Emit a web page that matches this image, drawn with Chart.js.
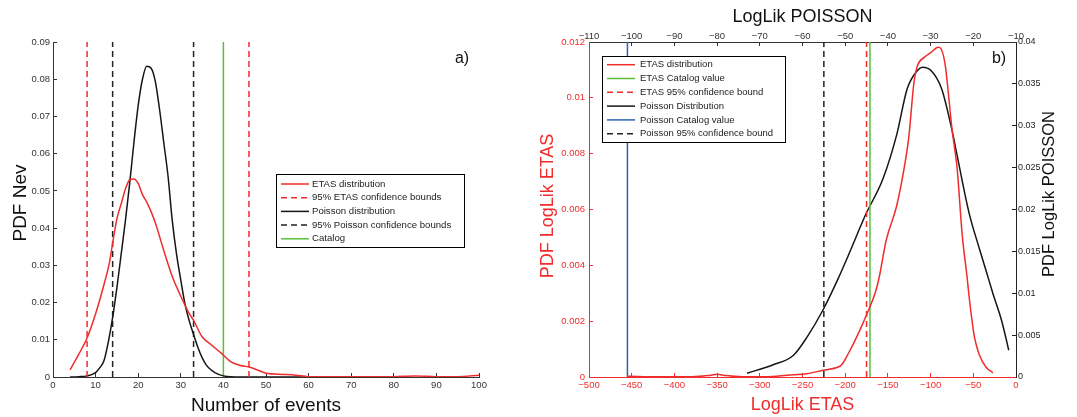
<!DOCTYPE html>
<html lang="en">
<head>
<meta charset="UTF-8">
<title>PDF Nev / LogLik ETAS - POISSON</title>
<script src="https://cdn.jsdelivr.net/npm/chart.js"></script>
<style>
  body { margin: 0; background: #fff; }
  #wrap { position: relative; width: 1077px; height: 417px; }
  #wrap canvas { position: absolute; top: 0; }
</style>
</head>
<body>
<div id="wrap">
  <canvas id="chartNev" width="530" height="417" style="left:0"></canvas>
  <canvas id="chartLogLik" width="547" height="417" style="left:530px"></canvas>
</div>
<script>
// ---- a) number of events ----
const etasNevX = [4, 6, 8, 10, 12, 13.3, 14, 15, 16, 17, 18, 19, 20, 21, 22, 23, 24, 26, 28, 30, 32, 33, 35, 37, 39.5, 42, 44, 46, 48, 50, 54, 57, 60, 70, 80, 85, 90, 95, 100];
const etasNevY = [0.0019, 0.006, 0.0105, 0.017, 0.025, 0.031, 0.036, 0.0425, 0.0465, 0.0505, 0.053, 0.0532, 0.052, 0.049, 0.047, 0.0445, 0.0415, 0.034, 0.027, 0.0217, 0.017, 0.0152, 0.0108, 0.0088, 0.0064, 0.0039, 0.0031, 0.0027, 0.0019, 0.001, 0.0007, 0.0005, 0.0001, 0.00005, 0.0001, 0.0003, 0.0001, 0.0001, 0.0005];
const poissonNevX = [4, 6, 8, 10, 11, 12, 13, 14, 15, 16, 17, 18, 19, 20, 21, 22, 23, 24, 25, 26, 27, 28, 29, 30, 31, 32, 33, 34, 35, 36, 37, 38, 40, 44, 60];
const poissonNevY = [0, 0.0001, 0.0003, 0.0012, 0.0025, 0.0045, 0.0095, 0.016, 0.024, 0.033, 0.042, 0.052, 0.063, 0.073, 0.080, 0.0835, 0.083, 0.0795, 0.072, 0.063, 0.054, 0.042, 0.033, 0.026, 0.0195, 0.015, 0.0114, 0.008, 0.0052, 0.0032, 0.002, 0.0012, 0.0003, 0, 0];
const etasBoundsNev = [8, 46];
const poissonBoundsNev = [14, 33];
const catalogNev = 40;
const nevTicksX = [0, 100, 10];      // min, max, step
const nevTicksY = [0, 0.09, 0.01];

// ---- b) log-likelihood ----
const etasLLX = [-455, -420, -380, -360, -350, -340, -320, -300, -280, -261, -245, -226, -208, -204, -196, -184, -174, -164, -160, -152, -140, -132, -125.5, -119.5, -115.4, -107.4, -99.3, -91.2, -89, -83, -79, -75, -71, -69, -63, -57, -55, -51, -48.5, -43, -35, -27];
const etasLLY = [0.00003, 0.00001, 0.00001, 0.00005, 0.0001, 0.00005, 0.00001, 0.00001, 0.00003, 0.00008, 0.00012, 0.00024, 0.00036, 0.00044, 0.00086, 0.0016, 0.0023, 0.0031, 0.0036, 0.0049, 0.0061, 0.0073, 0.0086, 0.01055, 0.01115, 0.01145, 0.01163, 0.01181, 0.0118, 0.0112, 0.0101, 0.0089, 0.008, 0.0075, 0.0051, 0.0035, 0.0029, 0.0019, 0.0014, 0.0008, 0.00035, 0.00015];
const poissonLLX = [-73, -67, -62.1, -58.9, -55.2, -51.6, -49.2, -45.2, -41.2, -37.9, -35.5, -33.1, -31.9, -29.9, -27.4, -25, -24, -21, -18.5, -16.9, -15.3, -13.3, -11.7];
const poissonLLY = [0.00044, 0.00144, 0.0026, 0.0048, 0.008, 0.0118, 0.0146, 0.0194, 0.0236, 0.029, 0.0344, 0.0366, 0.037, 0.0366, 0.0344, 0.0295, 0.027, 0.0196, 0.0152, 0.0125, 0.0098, 0.0066, 0.0032];
const etasCatalogLL = -171;
const etasBoundLL = -175;
const poissonCatalogLL = -101;
const poissonBoundLL = -55;
const etasLLTicksX = [-500, 0, 50];
const etasLLTicksY = [0, 0.012, 0.002];
const poissonLLTicksX = [-110, -10, 10];
const poissonLLTicksY = [0, 0.04, 0.005];

const FONT = '"Liberation Sans", Arial, Helvetica, sans-serif';
const RED = '#f02c2c';
const BLACK = '#161616';
const GREEN = '#5cbf3c';
const BLUE = '#2f62b8';
const DASH = [6, 4];

Chart.defaults.font.family = FONT;

const pts = (xs, ys) => xs.map((x, i) => ({ x: x, y: ys[i] }));
const vline = (x, top) => [{ x: x, y: 0 }, { x: x, y: top }];
// matlab style labels: no trailing zeros, real minus sign
const tickText = v => String(+v.toFixed(6)).replace('-', '\u2212');

function curve(label, xs, ys, color, extra) {
    return Object.assign({ label: label, inLegend: true, data: pts(xs, ys), borderColor: color,
        borderWidth: 1.5, cubicInterpolationMode: 'monotone', pointRadius: 0 }, extra || {});
}
function bound(label, x, top, color, dash, extra) {
    return Object.assign({ label: label, inLegend: !!label, data: vline(x, top), borderColor: color,
        borderWidth: 1.5, borderDash: dash || [], pointRadius: 0 }, extra || {});
}

// ticks point into the plot (negative tick length), like matlab
function axis(range, color, fit, pad, title, more, fontSize) {
    return Object.assign({
        type: 'linear', min: range[0], max: range[1],
        ticks: { stepSize: range[2], color: color, font: { size: fontSize || 9.5 }, padding: pad, maxRotation: 0,
                 autoSkip: false, callback: tickText },
        grid: { drawOnChartArea: false, drawTicks: true, tickLength: -4, color: color },
        border: { display: true, color: color, width: 1 },
        title: title || { display: false },
        afterFit: fit
    }, more || {});
}

// legend, panel tag and vertical axis titles drawn over the plot
const overlay = {
    id: 'overlay',
    afterDraw(chart, args, o) {
        const ctx = chart.ctx;
        ctx.save();
        const L = o.legend;
        const items = chart.data.datasets.filter(d => d.inLegend);
        ctx.fillStyle = '#fff';
        ctx.fillRect(L.x, L.y, L.w, L.h);
        ctx.strokeStyle = '#000';
        ctx.lineWidth = 1;
        ctx.strokeRect(L.x + 0.5, L.y + 0.5, L.w, L.h);
        ctx.font = L.font + 'px ' + FONT;
        ctx.textBaseline = 'middle';
        items.forEach((d, i) => {
            const y = L.y + L.first + i * L.step;
            ctx.strokeStyle = d.borderColor;
            ctx.lineWidth = 1.5;
            ctx.setLineDash(d.borderDash || []);
            ctx.beginPath();
            ctx.moveTo(L.x + 5, y);
            ctx.lineTo(L.x + 33, y);
            ctx.stroke();
            ctx.setLineDash([]);
            ctx.fillStyle = '#222';
            ctx.fillText(d.label, L.x + L.textX, y);
        });
        ctx.font = '16px ' + FONT;
        ctx.fillStyle = '#111';
        ctx.textAlign = 'center';
        ctx.fillText(o.tag.text, o.tag.x, o.tag.y);
        // rotated titles: x is the text baseline
        ctx.textBaseline = 'alphabetic';
        (o.sideTitles || []).forEach(s => {
            ctx.save();
            ctx.translate(s.x, s.y);
            ctx.rotate(-Math.PI / 2);
            ctx.font = s.size + 'px ' + FONT;
            ctx.fillStyle = s.color;
            ctx.fillText(s.text, 0, 0);
            ctx.restore();
        });
        ctx.restore();
    }
};

const common = {
    responsive: false,
    animation: false,
    elements: { line: { fill: false } },
    plugins: { legend: { display: false }, tooltip: { enabled: false } }
};

// a)
new Chart(document.getElementById('chartNev'), {
    type: 'line',
    data: {
        datasets: [
            curve('ETAS distribution', etasNevX, etasNevY, RED),
            bound('95% ETAS confidence bounds', etasBoundsNev[0], nevTicksY[1], RED, DASH),
            bound('', etasBoundsNev[1], nevTicksY[1], RED, DASH),
            curve('Poisson distribution', poissonNevX, poissonNevY, BLACK),
            bound('95% Poisson confidence bounds', poissonBoundsNev[0], nevTicksY[1], '#222', DASH),
            bound('', poissonBoundsNev[1], nevTicksY[1], '#222', DASH),
            bound('Catalog', catalogNev, nevTicksY[1], GREEN)
        ]
    },
    options: Object.assign({}, common, {
        layout: { padding: { top: 42, right: 51, left: 0, bottom: 0 } },
        scales: {
            x: axis(nevTicksX, '#333', s => { s.height = 40; }, 6.3,
                { display: true, text: 'Number of events', color: '#111', font: { size: 19 }, padding: { top: 0, bottom: 0 } }),
            y: axis(nevTicksY, '#333', s => { s.width = 53; }, 7)
        },
        plugins: Object.assign({}, common.plugins, {
            overlay: {
                legend: { x: 276, y: 174, w: 188, h: 73, first: 10, step: 13.7, textX: 36, font: 9.6 },
                tag: { text: 'a)', x: 462, y: 59 },
                sideTitles: [{ text: 'PDF Nev', x: 25.5, y: 203, size: 19, color: '#111' }]
            }
        })
    }),
    plugins: [overlay]
});

// b)
new Chart(document.getElementById('chartLogLik'), {
    type: 'line',
    data: {
        datasets: [
            curve('ETAS distribution', etasLLX, etasLLY, RED, { xAxisID: 'x', yAxisID: 'y' }),
            bound('ETAS Catalog value', etasCatalogLL, etasLLTicksY[1], GREEN, null, { xAxisID: 'x', yAxisID: 'y' }),
            bound('ETAS 95% confidence bound', etasBoundLL, etasLLTicksY[1], RED, DASH, { xAxisID: 'x', yAxisID: 'y' }),
            curve('Poisson Distribution', poissonLLX, poissonLLY, BLACK, { xAxisID: 'x2', yAxisID: 'y2' }),
            bound('Poisson Catalog value', poissonCatalogLL, poissonLLTicksY[1], BLUE, null, { xAxisID: 'x2', yAxisID: 'y2' }),
            bound('Poisson 95% confidence bound', poissonBoundLL, poissonLLTicksY[1], '#222', DASH, { xAxisID: 'x2', yAxisID: 'y2' })
        ]
    },
    options: Object.assign({}, common, {
        layout: { padding: 0 },
        scales: {
            x: axis(etasLLTicksX, RED, s => { s.height = 40; }, 6.3,
                { display: true, text: 'LogLik ETAS', color: RED, font: { size: 18 }, padding: { top: 0, bottom: 1 } },
                { position: 'bottom' }),
            x2: axis(poissonLLTicksX, '#333', s => { s.height = 42; }, 4.3,
                { display: true, text: 'LogLik POISSON', color: '#111', font: { size: 18 }, padding: { top: 6, bottom: 0 } },
                { position: 'top' }),
            y: axis(etasLLTicksY, RED, s => { s.width = 59; }, 8, null, { position: 'left' }),
            y2: axis(poissonLLTicksY, '#222', s => { s.width = 61; }, 6, null, { position: 'right' }, 9)
        },
        plugins: Object.assign({}, common.plugins, {
            overlay: {
                legend: { x: 72, y: 56, w: 183, h: 86, first: 8.7, step: 13.8, textX: 38, font: 9.5 },
                tag: { text: 'b)', x: 469, y: 59 },
                sideTitles: [
                    { text: 'PDF LogLik ETAS', x: 23, y: 206, size: 18, color: RED },
                    { text: 'PDF LogLik POISSON', x: 524, y: 194, size: 16.5, color: '#111' }
                ]
            }
        })
    }),
    plugins: [overlay]
});
</script>
</body>
</html>
